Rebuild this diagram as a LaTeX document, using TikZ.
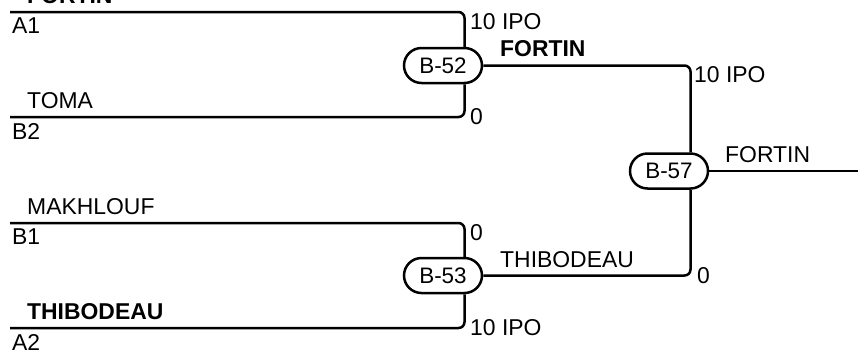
\documentclass[tikz,border=0pt]{standalone}
\usepackage{fontspec}
\setmainfont{Liberation Sans}
\usetikzlibrary{shapes.misc}
\tikzset{
  game/.style={rounded rectangle,draw,line width=2.5bp,fill=white,
    minimum width=78bp,minimum height=35bp,inner xsep=0pt,
    font=\fontsize{22.5}{26}\selectfont},
  wire/.style={line width=2.5bp,rounded corners=6bp},
  txt/.style={inner sep=0pt}
}
\begin{document}
\begin{tikzpicture}[x=1bp,y=-1bp,font=\fontsize{23}{27}\selectfont]
  \useasboundingbox (0,0) rectangle (858,350);
  \coordinate (A1) at (10,12);
  \coordinate (B2) at (10,117);
  \coordinate (B1) at (10,223);
  \coordinate (A2) at (10,328);
  \coordinate (out) at (858,171);
  \node[game] (B52) at (443,65.5) {B-52};
  \node[game] (B53) at (443,275.5) {B-53};
  \node[game] (B57) at (669,171) {B-57};
  \draw[wire] (A1) -| (B52.north east);
  \draw[wire] (B2) -| (B52.south east);
  \draw[wire] (B1) -| (B53.north east);
  \draw[wire] (A2) -| (B53.south east);
  \draw[wire] (B52.east) -| (B57.north east);
  \draw[wire] (B53.east) -| (B57.south east);
  \draw[wire] (B57.east) -- (out);
  % teams
  \node[txt,anchor=base west] (fortin1) at (27,3) {\textbf{FORTIN}};
  \node[txt,anchor=north west] (a1lbl) at (12,18) {A1};
  \node[txt,anchor=base west] (toma) at (27,108) {TOMA};
  \node[txt,anchor=north west] (b2lbl) at (12,123) {B2};
  \node[txt,anchor=base west] (makhlouf) at (27,214) {MAKHLOUF};
  \node[txt,anchor=north west] (b1lbl) at (12,229) {B1};
  \node[txt,anchor=base west] (thibo1) at (27,319) {\textbf{THIBODEAU}};
  \node[txt,anchor=north west] (a2lbl) at (12,334) {A2};
  % scores
  \node[txt,anchor=north west] (s1) at (470,13) {10 IPO};
  \node[txt,anchor=west] (s2) at (470,117) {0};
  \node[txt,anchor=north west] (s3) at (470,224) {0};
  \node[txt,anchor=west] (s4) at (470,328) {10 IPO};
  \node[txt,anchor=north west] (s5) at (694,66) {10 IPO};
  \node[txt,anchor=west] (s6) at (697,276) {0};
  % winners
  \node[txt,anchor=base west] (fortin2) at (500,56.5) {\textbf{FORTIN}};
  \node[txt,anchor=base west] (thibo2) at (500,267) {THIBODEAU};
  \node[txt,anchor=base west] (fortin3) at (725,162) {FORTIN};
\end{tikzpicture}
\end{document}
